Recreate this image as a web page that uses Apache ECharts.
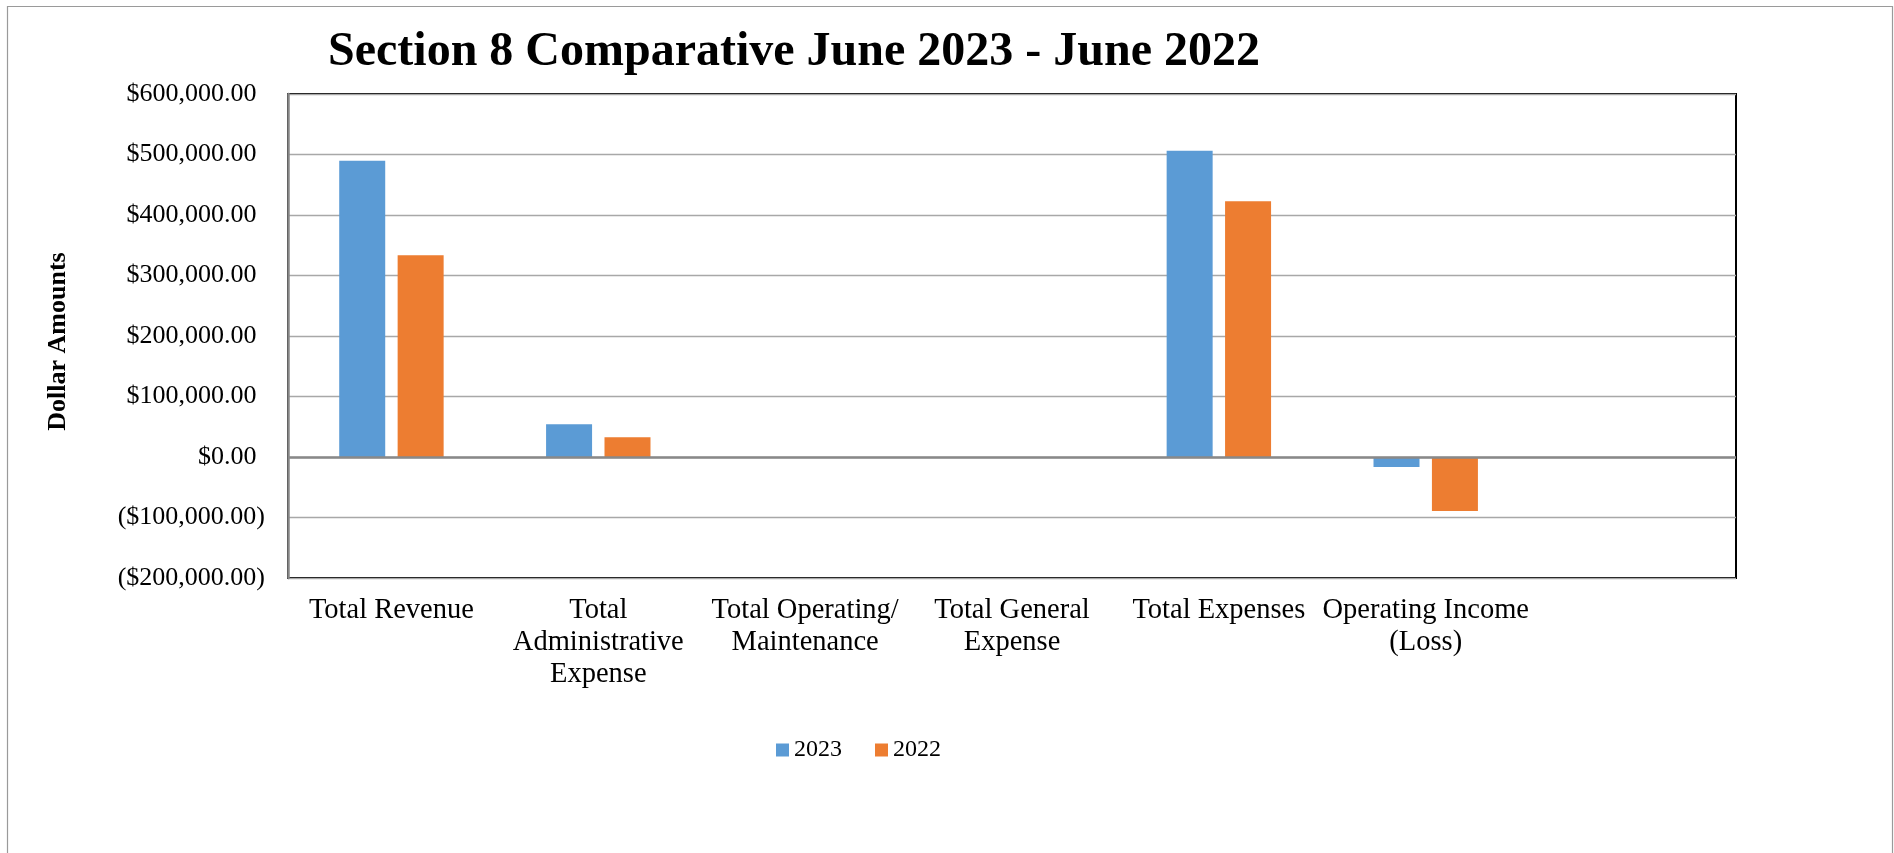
<!DOCTYPE html>
<html>
<head>
<meta charset="utf-8">
<title>Section 8 Comparative June 2023 - June 2022</title>
<script src="https://cdn.jsdelivr.net/npm/echarts@6/dist/echarts.min.js"></script>
<style>
  html, body { margin: 0; padding: 0; background: #ffffff; }
  #chart { width: 1894px; height: 853px; }
</style>
</head>
<body>
<div id="chart"></div>
<script>
// Line items shown on the category axis (last slot is an empty placeholder)
const categories = [
  'Total Revenue',
  'Total\nAdministrative\nExpense',
  'Total Operating/\nMaintenance',
  'Total General\nExpense',
  'Total Expenses',
  'Operating Income\n(Loss)',
  ''
];

// Dollar amounts per line item
const values2023 = [489600, 54100, 0, 0, 506100, -16500, null];
const values2022 = [333400, 32600, 0, 0, 422800, -89400, null];

const seriesNames = ['2023', '2022'];

// Value axis range and step
const yMin = -200000;
const yMax = 600000;
const yStep = 100000;

const FONT = "'Liberation Serif', 'Times New Roman', serif";

// Accounting style: negatives in parentheses, positives padded to line up
function money(v) {
  const s = Math.abs(v).toLocaleString('en-US', { minimumFractionDigits: 2, maximumFractionDigits: 2 });
  return v < 0 ? '{neg|($' + s + ')}' : '{pos|$' + s + '}';
}

const chart = echarts.init(document.getElementById('chart'), null, { renderer: 'canvas' });

chart.setOption({
  backgroundColor: '#ffffff',
  animation: false,
  title: {
    text: 'Section 8 Comparative June 2023 - June 2022',
    left: 323,
    top: 24,
    textStyle: { fontFamily: FONT, fontWeight: 'bold', fontSize: 48, color: '#000000' }
  },
  legend: {
    data: seriesNames,
    left: 776,
    top: 738,
    padding: 0,
    icon: 'rect',
    itemWidth: 13,
    itemHeight: 13,
    itemGap: 33,
    textStyle: { fontFamily: FONT, fontSize: 24, color: '#000000' }
  },
  graphic: [
    {
      type: 'rect',
      shape: { x: 7.5, y: 6.5, width: 1885, height: 900 },
      style: { fill: 'none', stroke: '#9a9a9a', lineWidth: 1.2 },
      silent: true,
      z: -10
    },
    {
      type: 'text',
      x: 58.7,
      y: 341.5,
      rotation: Math.PI / 2,
      style: {
        text: 'Dollar Amounts',
        fontFamily: FONT,
        fontWeight: 'bold',
        fontSize: 26,
        fill: '#000000',
        align: 'center',
        verticalAlign: 'middle'
      },
      silent: true
    }
  ],
  grid: {
    left: 288,
    right: 158,
    top: 94,
    bottom: 275,
    show: true,
    borderColor: '#000000',
    borderWidth: 2,
    backgroundColor: 'transparent'
  },
  xAxis: {
    type: 'category',
    data: categories,
    axisLine: { show: false, onZero: false },
    axisTick: { show: false },
    splitLine: { show: false },
    axisLabel: {
      interval: 0,
      margin: 17,
      fontFamily: FONT,
      fontSize: 28.5,
      lineHeight: 32,
      color: '#000000',
      align: 'center'
    }
  },
  yAxis: {
    type: 'value',
    min: yMin,
    max: yMax,
    interval: yStep,
    axisLine: { show: true, lineStyle: { color: '#868686', width: 2.5 } },
    axisTick: { show: false },
    splitLine: { show: true, lineStyle: { color: '#a8a8a8', width: 1.3 } },
    axisLabel: {
      margin: 23,
      fontFamily: FONT,
      fontSize: 26,
      color: '#000000',
      formatter: money,
      rich: {
        pos: { fontFamily: FONT, fontSize: 26, color: '#000000', padding: [0, 8.5, 0, 0] },
        neg: { fontFamily: FONT, fontSize: 26, color: '#000000' }
      }
    }
  },
  series: [
    {
      name: seriesNames[0],
      type: 'bar',
      data: values2023,
      barWidth: 46,
      barGap: '27%',
      itemStyle: { color: '#5b9bd5' },
      markLine: {
        silent: true,
        symbol: 'none',
        label: { show: false },
        lineStyle: { color: '#898989', width: 2.5, type: 'solid' },
        data: [{ yAxis: 0 }],
        z: 5
      }
    },
    {
      name: seriesNames[1],
      type: 'bar',
      data: values2022,
      barWidth: 46,
      barGap: '27%',
      itemStyle: { color: '#ed7d31' }
    }
  ]
});
</script>
</body>
</html>
